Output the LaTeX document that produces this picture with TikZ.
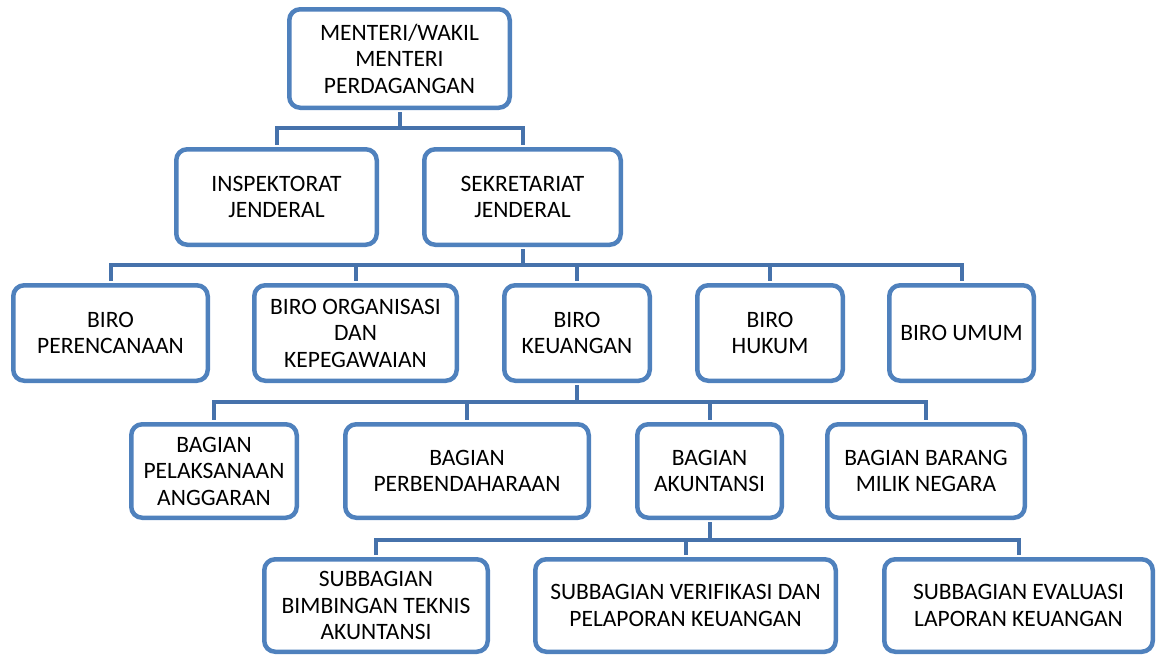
\documentclass[tikz,border=0pt]{standalone}
\usepackage{fontspec}
\setmainfont{Carlito}
\definecolor{boxblue}{HTML}{4F81BD}
\definecolor{connblue}{HTML}{4672AB}
\begin{document}
\begin{tikzpicture}[x=1pt,y=-1pt,
  orgbox/.style={draw=boxblue, line width=4.5pt, rounded corners=11pt, fill=white,
    inner sep=0pt, align=center, font=\fontsize{23.5}{26.5}\selectfont, text=black},
  conn/.style={draw=connblue, line width=4pt, line join=miter}]
\useasboundingbox (0,0) rectangle (1157,656);
% levels of the horizontal bars
\coordinate (b1) at (0,128);
\coordinate (b2) at (0,265);
\coordinate (b3) at (0,402);
\coordinate (b4) at (0,540);
% boxes
\node[orgbox, minimum width=220.5pt, minimum height=98.5pt] (menteri) at (399.5,58.5) {MENTERI/WAKIL\\MENTERI\\PERDAGANGAN};
\node[orgbox, minimum width=200.5pt, minimum height=95.5pt] (insp) at (276.5,197) {INSPEKTORAT\\JENDERAL};
\node[orgbox, minimum width=196.5pt, minimum height=95.5pt] (sekr) at (522.5,197) {SEKRETARIAT\\JENDERAL};
\node[orgbox, minimum width=194.5pt, minimum height=95.5pt] (renc) at (110.5,333) {BIRO\\PERENCANAAN};
\node[orgbox, minimum width=202.5pt, minimum height=95.5pt] (orga) at (355.5,333) {BIRO ORGANISASI\\DAN\\KEPEGAWAIAN};
\node[orgbox, minimum width=145.5pt, minimum height=95.5pt] (keu) at (577,333) {BIRO\\KEUANGAN};
\node[orgbox, minimum width=145.5pt, minimum height=95.5pt] (hukum) at (770,333) {BIRO\\HUKUM};
\node[orgbox, minimum width=144.5pt, minimum height=95.5pt] (umum) at (961.5,333) {BIRO UMUM};
\node[orgbox, minimum width=165.5pt, minimum height=93.5pt] (pelak) at (214,471) {BAGIAN\\PELAKSANAAN\\ANGGARAN};
\node[orgbox, minimum width=243.5pt, minimum height=93.5pt] (perb) at (467,471) {BAGIAN\\PERBENDAHARAAN};
\node[orgbox, minimum width=144.5pt, minimum height=93.5pt] (akun) at (709.5,471) {BAGIAN\\AKUNTANSI};
\node[orgbox, minimum width=197.5pt, minimum height=93.5pt] (bmn) at (926,471) {BAGIAN BARANG\\MILIK NEGARA};
\node[orgbox, minimum width=223.5pt, minimum height=92.5pt] (bimb) at (376,605.5) {SUBBAGIAN\\BIMBINGAN TEKNIS\\AKUNTANSI};
\node[orgbox, minimum width=300.5pt, minimum height=92.5pt] (verif) at (685.5,605.5) {SUBBAGIAN VERIFIKASI DAN\\PELAPORAN KEUANGAN};
\node[orgbox, minimum width=268.5pt, minimum height=92.5pt] (eval) at (1018.5,605.5) {SUBBAGIAN EVALUASI\\LAPORAN KEUANGAN};
% connectors
\foreach \c in {insp,sekr}
  \draw[conn] ([yshift=-2pt]menteri.south) -- (menteri.south |- b1) -| ([yshift=2pt]\c.north);
\foreach \c in {renc,orga,keu,hukum,umum}
  \draw[conn] ([yshift=-2pt]sekr.south) -- (sekr.south |- b2) -| ([yshift=2pt]\c.north);
\foreach \c in {pelak,perb,akun,bmn}
  \draw[conn] ([yshift=-2pt]keu.south) -- (keu.south |- b3) -| ([yshift=2pt]\c.north);
\foreach \c in {bimb,verif,eval}
  \draw[conn] ([yshift=-2pt]akun.south) -- (akun.south |- b4) -| ([yshift=2pt]\c.north);
\end{tikzpicture}
\end{document}
